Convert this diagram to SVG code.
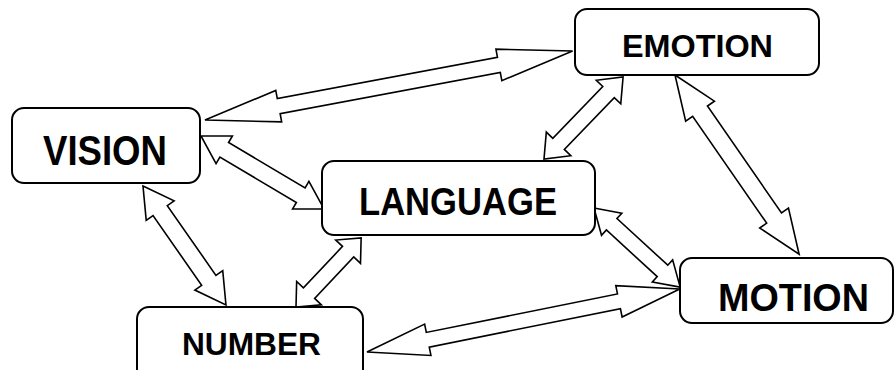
<svg xmlns="http://www.w3.org/2000/svg" width="896" height="370" viewBox="0 0 896 370">
<style>
.box{fill:#fff;stroke:#000;stroke-width:2}
.lbl{font-family:"Liberation Sans",Arial,sans-serif;font-weight:bold;fill:#000}
.arr{fill:#fff;stroke:#000;stroke-width:1.6;stroke-linejoin:miter}
</style>
<rect width="896" height="370" fill="#fff"/>
<g id="connectors">
<polygon class="arr" transform="translate(205,120) rotate(-10.62)" points="0,0 75,-16 75,-7.7 299,-7.7 299,-16 374,0 299,16 299,7.7 75,7.7 75,16"/>
<polygon class="arr" transform="translate(201,136) rotate(30.69)" points="0,0 27,-16 27,-8.5 116,-8.5 116,-16 143,0 116,16 116,8.5 27,8.5 27,16"/>
<polygon class="arr" transform="translate(143,186) rotate(55.1)" points="0,0 30,-17 30,-8.7 115,-8.7 115,-17 145,0 115,17 115,8.7 30,8.7 30,17"/>
<polygon class="arr" transform="translate(296,307) rotate(-46.7)" points="0,0 19,-17 19,-7.7 76,-7.7 76,-17 95,0 76,17 76,7.7 19,7.7 19,17"/>
<polygon class="arr" transform="translate(544,159) rotate(-46.07)" points="0,0 21,-17 21,-8 93,-8 93,-17 114,0 93,17 93,8 21,8 21,17"/>
<polygon class="arr" transform="translate(594,208) rotate(42.57)" points="0,0 24,-15 24,-7.8 93,-7.8 93,-15 117,0 93,15 93,7.8 24,7.8 24,15"/>
<polygon class="arr" transform="translate(675,75) rotate(55.29)" points="0,0 44,-17.5 44,-9 174,-9 174,-17.5 218,0 174,17.5 174,9 44,9 44,17.5"/>
<polygon class="arr" transform="translate(367,352) rotate(-11.38)" points="0,0 62,-16 62,-7.5 257,-7.5 257,-16 319,0 257,16 257,7.5 62,7.5 62,16"/>
</g>
<g id="vision">
<rect class="box" x="12" y="108" width="188" height="75" rx="12"/>
<text class="lbl" x="43" y="165" font-size="42" textLength="124" lengthAdjust="spacingAndGlyphs">VISION</text>
</g>
<g id="emotion">
<rect class="box" x="575" y="9" width="244" height="66" rx="12"/>
<text class="lbl" x="622" y="57" font-size="31" textLength="151" lengthAdjust="spacingAndGlyphs">EMOTION</text>
</g>
<g id="language">
<rect class="box" x="322" y="161" width="273" height="74" rx="12"/>
<text class="lbl" x="359" y="215" font-size="38" textLength="198" lengthAdjust="spacingAndGlyphs">LANGUAGE</text>
</g>
<g id="motion">
<rect class="box" x="680" y="258" width="213" height="65" rx="12"/>
<text class="lbl" x="718" y="311" font-size="39" textLength="151" lengthAdjust="spacingAndGlyphs">MOTION</text>
</g>
<g id="number">
<rect class="box" x="137" y="307" width="226" height="75" rx="12"/>
<text class="lbl" x="182" y="355" font-size="31" textLength="139" lengthAdjust="spacingAndGlyphs">NUMBER</text>
</g>
</svg>
